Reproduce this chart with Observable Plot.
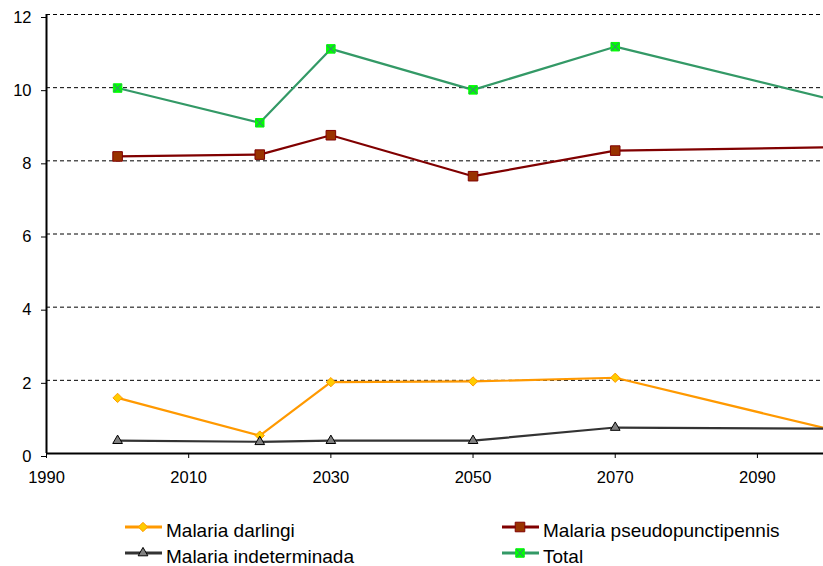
<!DOCTYPE html>
<html>
<head>
<meta charset="utf-8">
<script src="https://cdn.jsdelivr.net/npm/d3@7"></script>
<script src="https://cdn.jsdelivr.net/npm/@observablehq/plot@0.6"></script>
<style>
  html, body { margin: 0; padding: 0; background: #fff; overflow: hidden; }
  body { width: 823px; height: 566px; position: relative; font-family: "Liberation Sans", Arial, sans-serif; }
  #chart svg { display: block; }
  .legend-swatch { position: absolute; display: block; }
  .legend-label { position: absolute; font-size: 19px; line-height: 19px; color: #000; white-space: nowrap; }
</style>
</head>
<body>
<div id="chart"></div>
<div id="legend"></div>
<script>
// Years of each observation
const years = [2000, 2020, 2030, 2050, 2070, 2100];

// Series values
const darlingi = [1.52, 0.49, 1.95, 1.97, 2.07, 0.67];
const pseudopunctipennis = [8.12, 8.17, 8.70, 7.58, 8.28, 8.37];
const indeterminada = [0.35, 0.32, 0.35, 0.35, 0.71, 0.68];
const total = [9.99, 9.04, 11.06, 9.94, 11.12, 9.70];

// Series names
const seriesNames = ["Malaria darlingi", "Malaria pseudopunctipennis", "Malaria indeterminada", "Total"];

// Axis ticks
const xTicks = [1990, 2010, 2030, 2050, 2070, 2090];
const yTicks = [0, 2, 4, 6, 8, 10, 12];

// Appearance of each series (line colour, marker shape and colours)
const styles = [
  {values: darlingi, line: "#FF9900", symbol: "diamond2", fill: "#FFCC00", stroke: "#FF9900", r: 4.2},
  {values: pseudopunctipennis, line: "#800000", symbol: "square", fill: "#993300", stroke: "#800000", r: 5.4},
  {values: indeterminada, line: "#333333", symbol: "triangle", fill: "#808080", stroke: "#000000", r: 3.6},
  {values: total, line: "#339966", symbol: "square", fill: "#00FF00", stroke: "#00FF00", r: 4.8, cross: "#339966"}
];

const series = styles.map((s, i) => ({
  ...s,
  name: seriesNames[i],
  data: years.map((year, j) => ({year, value: s.values[j]}))
}));

const marks = [
  Plot.ruleY(yTicks.filter(d => d > 0), {stroke: "#000", strokeWidth: 1, strokeDasharray: "4,3"}),
  Plot.axisY({ticks: yTicks, tickSize: 5, tickPadding: 10, dy: 3, stroke: "#000", strokeWidth: 1, fill: "#000", label: null}),
  Plot.axisX({ticks: xTicks, tickFormat: d => String(d), tickSize: 5, tickPadding: 13, stroke: "#000", strokeWidth: 1, fill: "#000", label: null}),
  Plot.ruleX([1990], {stroke: "#000", strokeWidth: 2}),
  Plot.ruleY([0], {stroke: "#000", strokeWidth: 2})
];

for (const s of series) {
  marks.push(Plot.line(s.data, {x: "year", y: "value", stroke: s.line, strokeWidth: 2.2}));
}
for (const s of series) {
  marks.push(Plot.dot(s.data, {x: "year", y: "value", symbol: s.symbol, r: s.r, fill: s.fill, stroke: s.stroke, strokeWidth: 1}));
  if (s.cross) {
    marks.push(Plot.dot(s.data, {x: "year", y: "value", symbol: "times", r: 3.6, stroke: s.cross, strokeWidth: 1.2}));
  }
}

const chart = Plot.plot({
  width: 823,
  height: 495,
  marginLeft: 46,
  marginRight: -5,
  marginTop: 14,
  marginBottom: 42,
  style: {fontFamily: "'Liberation Sans', Arial, sans-serif", fontSize: "16.5px", background: "#fff"},
  x: {domain: [1990, 2100], label: null},
  y: {domain: [0, 12], label: null},
  marks
});
document.getElementById("chart").appendChild(chart);

// Legend below the chart: two columns, two rows
const legendPos = [
  {left: 125, line: 526.7, text: 520.6},
  {left: 502, line: 526.7, text: 520.6},
  {left: 125, line: 552.5, text: 546.6},
  {left: 502, line: 552.5, text: 546.6}
];
const symbolPaths = {
  diamond2: d3.symbolDiamond2,
  square: d3.symbolSquare,
  triangle: d3.symbolTriangle
};
const legend = d3.select("#legend");
series.forEach((s, i) => {
  const p = legendPos[i];
  const sw = legend.append("svg")
    .attr("class", "legend-swatch")
    .attr("width", 38).attr("height", 14)
    .style("left", p.left + "px")
    .style("top", (p.line - 7) + "px");
  sw.append("line").attr("x1", 0).attr("x2", 37).attr("y1", 7).attr("y2", 7)
    .attr("stroke", s.line).attr("stroke-width", 2.8);
  sw.append("path")
    .attr("transform", "translate(18,7)")
    .attr("d", d3.symbol(symbolPaths[s.symbol], Math.PI * s.r * s.r)())
    .attr("fill", s.fill).attr("stroke", s.stroke);
  if (s.cross) {
    sw.append("path")
      .attr("transform", "translate(18,7)")
      .attr("d", d3.symbol(d3.symbolTimes, Math.PI * 3.6 * 3.6)())
      .attr("fill", "none").attr("stroke", s.cross).attr("stroke-width", 1.2);
  }
  legend.append("div")
    .attr("class", "legend-label")
    .style("left", (p.left + 41) + "px")
    .style("top", p.text + "px")
    .text(s.name);
});
</script>
</body>
</html>
